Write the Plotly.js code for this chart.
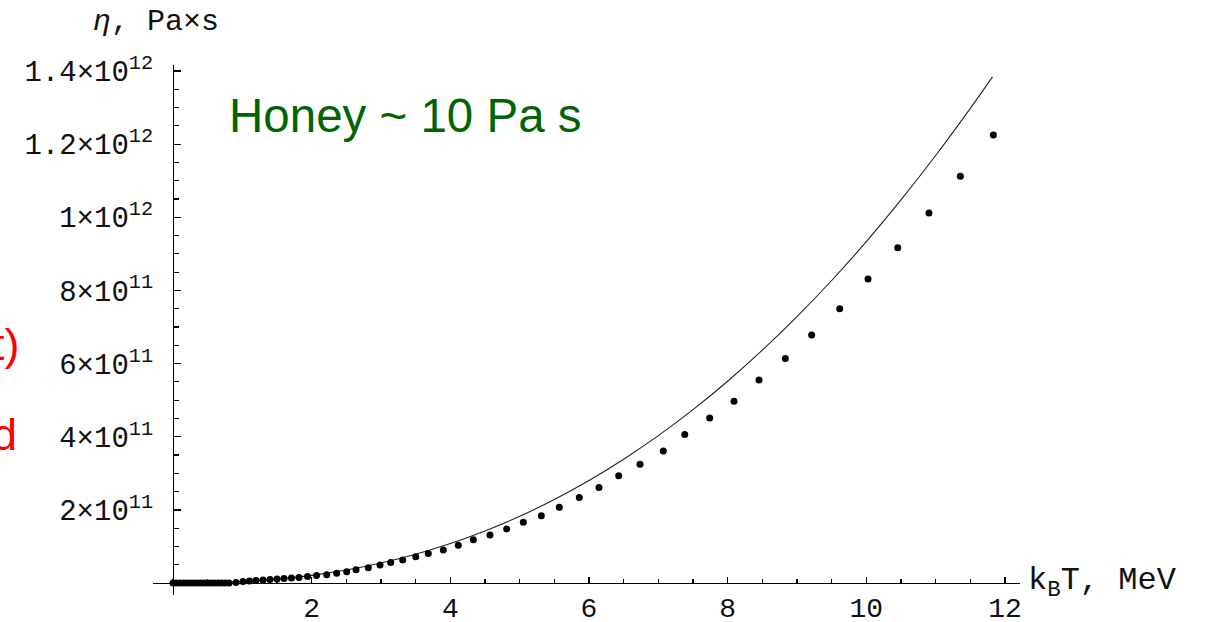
<!DOCTYPE html>
<html>
<head>
<meta charset="utf-8">
<script src="https://cdn.plot.ly/plotly-3.0.1.min.js"></script>
<style>html,body{margin:0;padding:0;background:#fff;}</style>
</head>
<body>
<div id="chart" style="width:1212px;height:622px;"></div>
<script>
// Dots (computed points), kT in MeV, viscosity in Pa*s
const dotT = [0, 0.05, 0.1, 0.15, 0.2, 0.25, 0.3, 0.35, 0.4, 0.45, 0.5, 0.55, 0.6, 0.65, 0.7, 0.75,
  0.808, 0.909, 1.010, 1.103, 1.197, 1.298, 1.399, 1.500, 1.601, 1.709, 1.817, 1.940, 2.070, 2.217,
  2.361, 2.505, 2.640, 2.817, 2.986, 3.140, 3.313, 3.501, 3.682, 3.899, 4.115, 4.332, 4.572, 4.813,
  5.053, 5.312, 5.572, 5.860, 6.144, 6.429, 6.736, 7.072, 7.381, 7.741, 8.092, 8.452, 8.832, 9.212,
  9.616, 10.025, 10.453, 10.904, 11.356, 11.832];
const dotEta = [0, 0, 0, 0, 0, 0, 0, 0, 0, 0, 0, 0, 0, 0, 0, 0,
  0, 0.014e11, 0.041e11, 0.055e11, 0.068e11, 0.082e11, 0.096e11, 0.110e11, 0.123e11, 0.137e11, 0.151e11, 0.178e11, 0.205e11, 0.225e11,
  0.266e11, 0.310e11, 0.36e11, 0.42e11, 0.49e11, 0.56e11, 0.63e11, 0.72e11, 0.81e11, 0.90e11, 1.03e11, 1.18e11, 1.31e11, 1.48e11,
  1.66e11, 1.84e11, 2.07e11, 2.34e11, 2.61e11, 2.93e11, 3.25e11, 3.61e11, 4.06e11, 4.51e11, 4.97e11, 5.55e11, 6.14e11, 6.78e11,
  7.50e11, 8.31e11, 9.17e11, 10.12e11, 11.12e11, 12.25e11];

// Solid curve
const lineT = [0, 0.5, 1, 1.5, 2, 2.5, 3, 3.5, 4, 4.5, 5, 5.5, 6, 6.5, 7, 7.5, 8, 8.5, 9, 9.5, 10, 10.5, 11, 11.5, 11.82];
const lineEta = [0, 0.008e11, 0.041e11, 0.107e11, 0.21e11, 0.356e11, 0.547e11, 0.787e11, 1.078e11, 1.423e11, 1.823e11,
  2.283e11, 2.802e11, 3.384e11, 4.029e11, 4.74e11, 5.518e11, 6.367e11, 7.284e11, 8.272e11, 9.336e11, 10.476e11,
  11.69e11, 12.98e11, 13.84e11];

const xTickVals = [2, 4, 6, 8, 10, 12];
const xTickText = ["2", "4", "6", "8", "10", "12"];
const yTickVals = [2e11, 4e11, 6e11, 8e11, 1e12, 1.2e12, 1.4e12];
const yTickText = ["2×10<sup>11</sup>", "4×10<sup>11</sup>", "6×10<sup>11</sup>", "8×10<sup>11</sup>",
  "1×10<sup>12</sup>", "1.2×10<sup>12</sup>", "1.4×10<sup>12</sup>"];

const mono = "Liberation Mono, Courier New, monospace";
const sans = "Liberation Sans, Arial, sans-serif";

const traces = [
  {x: lineT, y: lineEta, mode: "lines", type: "scatter",
   line: {color: "#222", width: 1.1, shape: "spline"}, hoverinfo: "skip"},
  {x: dotT, y: dotEta, mode: "markers", type: "scatter",
   marker: {color: "#000", size: 7}, hoverinfo: "skip"}
];

const layout = {
  width: 1212, height: 622,
  margin: {l: 153, r: 192, t: 65, b: 27},
  paper_bgcolor: "#fff", plot_bgcolor: "#fff",
  showlegend: false,
  xaxis: {
    range: [-0.2885, 12.2167],
    anchor: "free", position: 0.02263,
    showline: true, linecolor: "#000", linewidth: 1.3,
    showgrid: false, zeroline: false,
    tickmode: "array", tickvals: xTickVals, ticktext: xTickText,
    ticks: "inside", ticklen: 6, tickwidth: 1.3, tickcolor: "#000",
    minor: {tickmode: "linear", tick0: 0, dtick: 0.5, ticks: "inside", ticklen: 4, tickwidth: 1.1, tickcolor: "#000"},
    tickfont: {family: mono, size: 28, color: "#111"},
    ticklabelstandoff: -1
  },
  yaxis: {
    range: [-0.328e11, 14.165e11],
    anchor: "free", position: 0.02307,
    showline: true, linecolor: "#000", linewidth: 1.3,
    showgrid: false, zeroline: false,
    tickmode: "array", tickvals: yTickVals, ticktext: yTickText,
    ticks: "inside", ticklen: 7, tickwidth: 1.3, tickcolor: "#000",
    minor: {tickmode: "linear", tick0: 0, dtick: 5e10, ticks: "inside", ticklen: 5, tickwidth: 1.1, tickcolor: "#000"},
    tickfont: {family: mono, size: 29, color: "#111"},
    ticklabelstandoff: 14
  },
  annotations: [
    {xref: "paper", yref: "paper", x: (92 - 153) / 867, y: (595 - 22) / 530, xanchor: "left", yanchor: "middle",
     text: "<i>η</i>, Pa×s", showarrow: false, borderpad: 0, font: {family: mono, size: 30, color: "#111"}},
    {xref: "paper", yref: "paper", x: (1027 - 153) / 867, y: (595 - 582) / 530, xanchor: "left", yanchor: "middle",
     text: "k<sub>B</sub>T, MeV", showarrow: false, borderpad: 0, font: {family: mono, size: 32, color: "#111"}},
    {xref: "paper", yref: "paper", x: (228 - 153) / 867, y: (595 - 116) / 530, xanchor: "left", yanchor: "middle",
     text: "Honey ~ 10 Pa s", showarrow: false, borderpad: 0, font: {family: sans, size: 47.5, color: "#006400"}},
    {xref: "paper", yref: "paper", x: (21 - 153) / 867, y: (595 - 344) / 530, xanchor: "right", yanchor: "middle",
     text: "t)", showarrow: false, borderpad: 0, font: {family: sans, size: 45, color: "#ff0000"}},
    {xref: "paper", yref: "paper", x: (18 - 153) / 867, y: (595 - 434) / 530, xanchor: "right", yanchor: "middle",
     text: "d", showarrow: false, borderpad: 0, font: {family: sans, size: 45, color: "#ff0000"}}
  ]
};

Plotly.newPlot("chart", traces, layout, {staticPlot: true, displayModeBar: false});
</script>
</body>
</html>
